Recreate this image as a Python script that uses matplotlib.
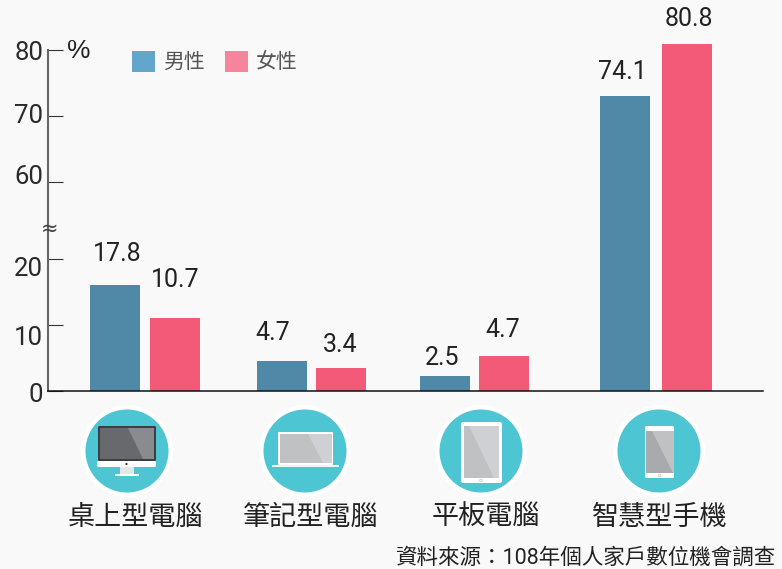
import numpy as np
import matplotlib
matplotlib.use('Agg')
import matplotlib.pyplot as plt
from matplotlib.patches import Circle, Rectangle, Polygon, FancyBboxPatch

plt.rcParams['font.family'] = ['Roboto', 'Noto Sans CJK TC', 'DejaVu Sans']

categories = ['桌上型電腦', '筆記型電腦', '平板電腦', '智慧型手機']
series_names = ['男性', '女性']
# printed values
male_values = [17.8, 4.7, 2.5, 74.1]
female_values = [10.7, 3.4, 4.7, 80.8]
# bar heights, the original does not draw them exactly to the label
male_drawn = [16.0, 4.5, 2.3, 73.0]
female_drawn = [11.0, 3.5, 5.3, 80.9]
y_ticks = [0, 10, 20, 60, 70, 80]

BG = '#f9f9f9'
MALE = '#5088a8'
FEMALE = '#f25a78'
W, H = 782, 569

# layout, in pixels
male_x = [115, 282, 445, 625]
female_x = [175, 341, 504, 687]
bar_w = 50
male_offs = [(2, 31), (-9, 28), (-3, 18), (-3, 24)]
female_offs = [(0, 38), (-1, 23), (-1, 26), (2, 25)]
tick_offs = {0: -4, 10: -13, 20: -10, 60: 5, 70: 0, 80: -3}
icon_x = [127, 305, 481, 659]
label_x = [136, 311, 486, 660]


def fwd(v):
    return np.interp(v, [0, 20, 60, 100], [0, 20, 31.67, 71.67])


def inv(v):
    return np.interp(v, [0, 20, 31.67, 71.67], [0, 20, 60, 100])


fig = plt.figure(figsize=(W / 100, H / 100), dpi=100, facecolor=BG)
ax = fig.add_axes([48 / W, (H - 391) / H, (763 - 48) / W, 361 / H], facecolor='none')
ax.set_xlim(48, 763)
ax.set_yscale('function', functions=(fwd, inv))
ax.set_ylim(0, inv(361 / 6.6))

ax.bar(male_x, male_drawn, bar_w, color=MALE, zorder=2)
ax.bar(female_x, female_drawn, bar_w, color=FEMALE, zorder=2)

for spine in ['top', 'right']:
    ax.spines[spine].set_visible(False)
ax.spines['left'].set_color('#666666')
ax.spines['left'].set_linewidth(1.5)
ax.spines['left'].set_bounds(0, 80)
ax.spines['bottom'].set_color('#111111')
ax.spines['bottom'].set_linewidth(1.1)
ax.spines['bottom'].set_zorder(3)
ax.set_xticks([])
ax.set_yticks(y_ticks)
ax.set_yticklabels([])
ax.tick_params(axis='y', direction='in', length=11, width=0.8, color='#333333')
ax.yaxis.get_major_ticks()[0].tick1line.set_color('#cccccc')

for t in y_ticks:
    ax.annotate(str(t), xy=(0, t), xycoords=ax.get_yaxis_transform(),
                xytext=(-5, tick_offs[t]), textcoords='offset pixels',
                ha='right', va='center', fontsize=18.5, color='#2a2a2a')

for x, d, v, o in zip(male_x + female_x, male_drawn + female_drawn,
                      male_values + female_values, male_offs + female_offs):
    ax.annotate(f'{v:.1f}', xy=(x, d), xytext=o, textcoords='offset pixels',
                ha='center', va='center', fontsize=18, color='#222222')

# pixel overlay for legend, icons and the loose text
ov = fig.add_axes([0, 0, 1, 1], facecolor='none')
ov.set_xlim(0, W)
ov.set_ylim(H, 0)
ov.axis('off')

ov.text(79, 51, '%', ha='center', va='center', fontsize=19, color='#222222', family='Liberation Sans')
ov.text(50, 229, '≈', ha='center', va='center', fontsize=15, color='#444444', family='DejaVu Sans')

ov.add_patch(Rectangle((132, 51), 23, 21, color='#62a6cc', lw=0))
ov.add_patch(Rectangle((224.5, 51), 23, 21, color='#f6849c', lw=0))
ov.text(163, 62, series_names[0], va='center', fontsize=15, color='#555555')
ov.text(255.5, 62, series_names[1], va='center', fontsize=15, color='#555555')

for cx in icon_x:
    ov.add_patch(Circle((cx, 451), 46, color='white', lw=0))
    ov.add_patch(Circle((cx, 451), 41.5, color='#4ec5d3', lw=0))


def box(x0, y0, x1, y1, c, r=0):
    if r:
        ov.add_patch(FancyBboxPatch((x0 + r, y0 + r), x1 - x0 - 2 * r, y1 - y0 - 2 * r,
                                    boxstyle=f'round,pad={r}', fc=c, ec='none'))
    else:
        ov.add_patch(Rectangle((x0, y0), x1 - x0, y1 - y0, fc=c, ec='none'))


# desktop
box(98, 426, 156, 461, '#3d3e40', 1.5)
box(100, 428, 154, 459, '#68696d')
ov.add_patch(Polygon([(128, 428), (154, 428), (154, 459), (143, 459)], fc='#8a8b8f', ec='none'))
box(97, 461, 156, 467, 'white', 1.5)
box(120, 467, 134, 474, '#e6e6e7')
box(115, 474, 139, 475.5, 'white')
ov.add_patch(Circle((126.5, 464), 1.1, color='#333333', lw=0))
# laptop
box(278, 432, 333, 465, 'white', 1)
box(280, 434, 332, 463, '#c0c1c3')
ov.add_patch(Polygon([(308, 434), (332, 434), (332, 463), (323, 463)], fc='#cfd0d3', ec='none'))
box(272, 465, 339, 467, '#f2f2f2')
# tablet
box(461, 422, 502, 483, 'white', 2)
box(464, 426, 499, 478, '#c0c1c3')
ov.add_patch(Polygon([(469, 426), (499, 426), (499, 478), (494, 478)], fc='#cfd0d3', ec='none'))
ov.add_patch(Circle((481, 480.5), 1.3, fc='none', ec='#cccccc', lw=0.6))
# phone
box(645, 426, 674, 478, 'white', 1.5)
box(646, 431, 674, 473, '#a9aaad')
ov.add_patch(Polygon([(652, 431), (674, 431), (674, 473), (673, 473)], fc='#c0c1c3', ec='none'))
ov.add_patch(Circle((659.5, 475.5), 1.3, fc='none', ec='#cccccc', lw=0.6))

for x, name in zip(label_x, categories):
    ov.text(x, 517.5, name, ha='center', va='center', fontsize=19.5, color='#222222')
ov.text(776, 558, '資料來源：108年個人家戶數位機會調查', ha='right', va='center', fontsize=15.5, color='#222222')

fig.savefig('out.png', dpi=100, facecolor=BG)
